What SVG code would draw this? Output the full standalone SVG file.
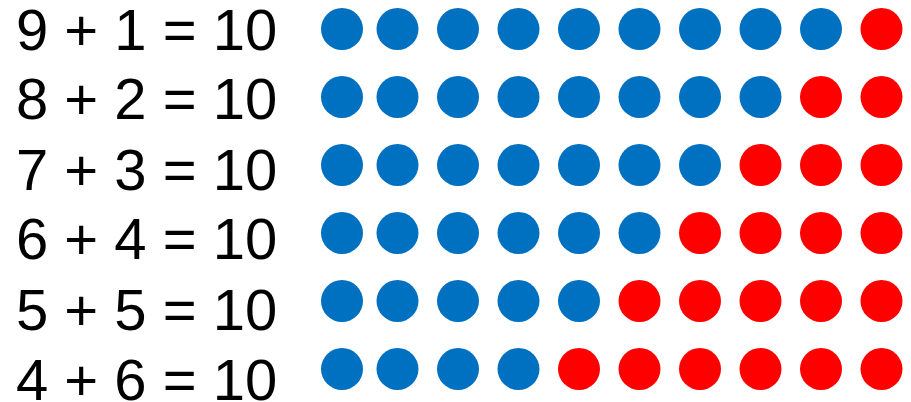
<svg xmlns="http://www.w3.org/2000/svg" width="911" height="402" viewBox="0 0 911 402">
<style>
text{font-family:"Liberation Sans",Arial,sans-serif;font-size:58px;fill:#000}
.b{fill:#0070C0}
.r{fill:#FF0000}
</style>
<defs>
<circle id="c" r="21"/>
</defs>
<rect width="911" height="402" fill="#fff"/>
<g id="row1">
<text x="16" y="50">9 + 1 = 10</text>
<g transform="translate(0,29)">
<use href="#c" x="342" class="b"/><use href="#c" x="397.5" class="b"/><use href="#c" x="458" class="b"/><use href="#c" x="518.5" class="b"/><use href="#c" x="579" class="b"/><use href="#c" x="639.5" class="b"/><use href="#c" x="700" class="b"/><use href="#c" x="760.5" class="b"/><use href="#c" x="821" class="b"/><use href="#c" x="881.5" class="r"/>
</g>
</g>
<g id="row2">
<text x="16" y="119">8 + 2 = 10</text>
<g transform="translate(0,97)">
<use href="#c" x="342" class="b"/><use href="#c" x="397.5" class="b"/><use href="#c" x="458" class="b"/><use href="#c" x="518.5" class="b"/><use href="#c" x="579" class="b"/><use href="#c" x="639.5" class="b"/><use href="#c" x="700" class="b"/><use href="#c" x="760.5" class="b"/><use href="#c" x="821" class="r"/><use href="#c" x="881.5" class="r"/>
</g>
</g>
<g id="row3">
<text x="16" y="190">7 + 3 = 10</text>
<g transform="translate(0,165)">
<use href="#c" x="342" class="b"/><use href="#c" x="397.5" class="b"/><use href="#c" x="458" class="b"/><use href="#c" x="518.5" class="b"/><use href="#c" x="579" class="b"/><use href="#c" x="639.5" class="b"/><use href="#c" x="700" class="b"/><use href="#c" x="760.5" class="r"/><use href="#c" x="821" class="r"/><use href="#c" x="881.5" class="r"/>
</g>
</g>
<g id="row4">
<text x="16" y="259">6 + 4 = 10</text>
<g transform="translate(0,233)">
<use href="#c" x="342" class="b"/><use href="#c" x="397.5" class="b"/><use href="#c" x="458" class="b"/><use href="#c" x="518.5" class="b"/><use href="#c" x="579" class="b"/><use href="#c" x="639.5" class="b"/><use href="#c" x="700" class="r"/><use href="#c" x="760.5" class="r"/><use href="#c" x="821" class="r"/><use href="#c" x="881.5" class="r"/>
</g>
</g>
<g id="row5">
<text x="16" y="330">5 + 5 = 10</text>
<g transform="translate(0,301)">
<use href="#c" x="342" class="b"/><use href="#c" x="397.5" class="b"/><use href="#c" x="458" class="b"/><use href="#c" x="518.5" class="b"/><use href="#c" x="579" class="b"/><use href="#c" x="639.5" class="r"/><use href="#c" x="700" class="r"/><use href="#c" x="760.5" class="r"/><use href="#c" x="821" class="r"/><use href="#c" x="881.5" class="r"/>
</g>
</g>
<g id="row6">
<text x="16" y="400">4 + 6 = 10</text>
<g transform="translate(0,369)">
<use href="#c" x="342" class="b"/><use href="#c" x="397.5" class="b"/><use href="#c" x="458" class="b"/><use href="#c" x="518.5" class="b"/><use href="#c" x="579" class="r"/><use href="#c" x="639.5" class="r"/><use href="#c" x="700" class="r"/><use href="#c" x="760.5" class="r"/><use href="#c" x="821" class="r"/><use href="#c" x="881.5" class="r"/>
</g>
</g>
</svg>
